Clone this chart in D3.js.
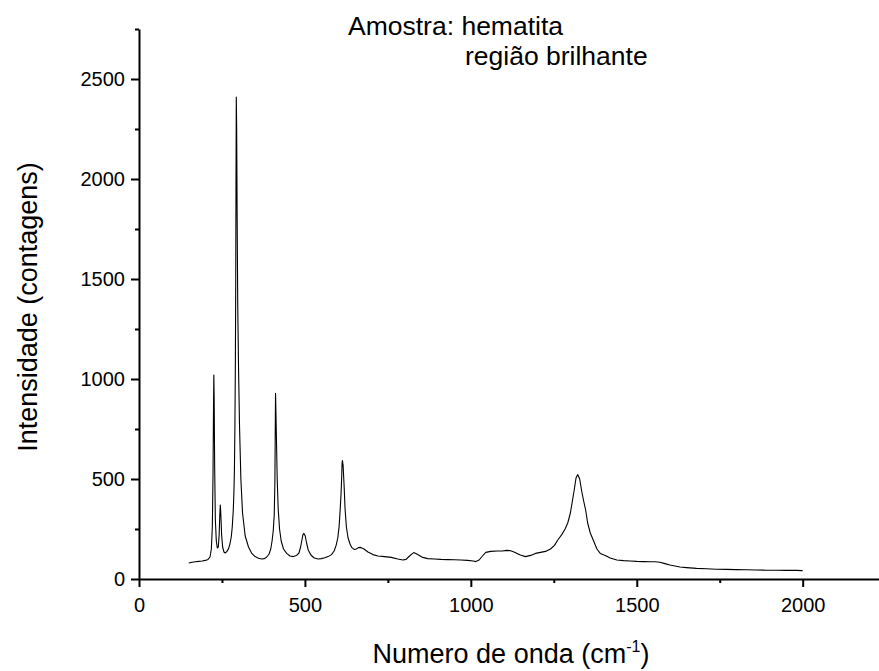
<!DOCTYPE html>
<html>
<head>
<meta charset="utf-8">
<script src="https://cdn.jsdelivr.net/npm/d3@7/dist/d3.min.js"></script>
<style>
  html, body { margin: 0; padding: 0; background: #fff; }
  svg { display: block; }
  text { font-family: "Liberation Sans", Arial, sans-serif; fill: #000; }
</style>
</head>
<body>
<svg id="chart" width="879" height="671"></svg>
<script>
// Wavenumber (cm-1) and intensity (counts)
const wavenumber = [150,160,170,180,190,200,208,214,218,221,223,224.5,225.5,226.5,228,230,233,236,239,241.5,243.5,245,246.5,249,252,256,260,265,270,274,278,281,284,286,287.5,289,290.5,291.5,292.3,293.2,294.3,295.8,297.5,300,303,307,312,320,330,340,350,360,370,378,385,392,397,401,404.5,407.5,409.5,410.5,411.5,413.5,416.5,419.5,423.5,428.5,435.5,445,455,465,475,482,487,491,494,497,501,505,510,518,528,540,550,560,570,580,588,594,599,603,606,609,611,612,613,615,618,621,625,630,636,641,648,655,661,668,678,690,705,720,740,760,780,795,805,812,820,828,840,855,870,890,910,930,950,970,990,1007,1015,1025,1035,1045,1060,1080,1095,1108,1118,1130,1149,1165,1180,1195,1210,1225,1240,1252,1262,1274,1284,1292,1300,1306,1312,1317,1322,1328,1334,1340,1346,1352,1360,1370,1380,1390,1405,1420,1440,1460,1480,1500,1520,1540,1555,1570,1585,1600,1615,1630,1650,1680,1710,1740,1770,1800,1830,1860,1890,1920,1950,1980,2000];
const intensity = [80,84,86,88,90,93,98,110,150,260,520,850,1020,900,560,300,190,155,160,220,320,370,330,220,160,135,130,138,152,175,210,260,340,430,540,760,1100,1480,2000,2410,2250,1800,1380,1050,760,500,330,215,160,128,112,104,100,102,110,125,150,190,240,320,480,720,928,760,500,350,250,190,150,128,115,112,118,130,160,195,222,228,215,180,145,120,105,100,102,106,112,122,140,168,205,262,340,430,520,580,592,570,470,350,260,205,175,158,148,150,157,158,150,135,122,115,112,108,100,95,98,110,122,132,122,108,102,100,98,97,96,95,93,90,87,95,115,133,138,140,140,143,142,135,120,112,118,128,133,138,150,168,195,222,250,280,330,390,450,505,522,500,440,390,345,280,230,190,150,128,118,105,95,92,90,88,87,86,86,84,77,70,65,60,57,53,51,49,48,47,46,45,44,44,43,43,42,42];

const xMajorTicks = [0, 500, 1000, 1500, 2000];
const xMinorTicks = [250, 750, 1250, 1750];
const yMajorTicks = [0, 500, 1000, 1500, 2000, 2500];
const yMinorTicks = [250, 750, 1250, 1750, 2250, 2750];

const titleLine1 = "Amostra: hematita";
const titleLine2 = "região brilhante";
const yTitle = "Intensidade (contagens)";

const svg = d3.select("#chart");
const x0 = 139, y0 = 579;
const x = d3.scaleLinear().domain([0, 2230]).range([x0, 879]);
const y = d3.scaleLinear().domain([0, 2750]).range([y0, 29]);

const data = wavenumber.map((w, i) => ({ w, v: intensity[i] }));

// Spectrum line
svg.append("path")
  .datum(data)
  .attr("fill", "none")
  .attr("stroke", "#000")
  .attr("stroke-width", 1.1)
  .attr("stroke-linejoin", "round")
  .attr("d", d3.line().x(d => x(d.w)).y(d => y(d.v)));

// X axis
const gx = svg.append("g").attr("transform", `translate(0,${y0})`);
gx.call(d3.axisBottom(x).tickValues(xMajorTicks).tickSize(8).tickSizeOuter(0).tickPadding(11).tickFormat(d3.format("d")));
gx.append("g").call(d3.axisBottom(x).tickValues(xMinorTicks).tickSize(4).tickSizeOuter(0).tickFormat(""))
  .select(".domain").remove();
gx.selectAll(".domain").attr("stroke-width", 2).attr("stroke", "#000");
gx.selectAll(".tick line").attr("stroke-width", 2).attr("stroke", "#000");
gx.selectAll(".tick text").attr("font-size", 20).attr("font-family", "Liberation Sans, Arial, sans-serif").attr("fill", "#000");

// Y axis
const gy = svg.append("g").attr("transform", `translate(${x0},0)`);
gy.call(d3.axisLeft(y).tickValues(yMajorTicks).tickSize(8).tickSizeOuter(0).tickPadding(6).tickFormat(d3.format("d")));
gy.append("g").call(d3.axisLeft(y).tickValues(yMinorTicks).tickSize(4).tickSizeOuter(0).tickFormat(""))
  .select(".domain").remove();
gy.selectAll(".domain").attr("stroke-width", 2).attr("stroke", "#000");
gy.selectAll(".tick line").attr("stroke-width", 2).attr("stroke", "#000");
gy.selectAll(".tick text").attr("font-size", 20).attr("font-family", "Liberation Sans, Arial, sans-serif").attr("fill", "#000");

// Title
svg.append("text").attr("x", 348).attr("y", 35).attr("font-size", 26.5).text(titleLine1);
svg.append("text").attr("x", 465).attr("y", 65).attr("font-size", 26.5).text(titleLine2);

// X axis title with superscript
const xt = svg.append("text").attr("x", 511).attr("y", 663).attr("text-anchor", "middle").attr("font-size", 27);
xt.append("tspan").text("Numero de onda (cm");
xt.append("tspan").attr("dy", -11).attr("font-size", 16).text("-1");
xt.append("tspan").attr("dy", 11).text(")");

// Y axis title
svg.append("text")
  .attr("transform", `translate(37,307) rotate(-90)`)
  .attr("text-anchor", "middle")
  .attr("font-size", 27)
  .text(yTitle);
</script>
</body>
</html>
